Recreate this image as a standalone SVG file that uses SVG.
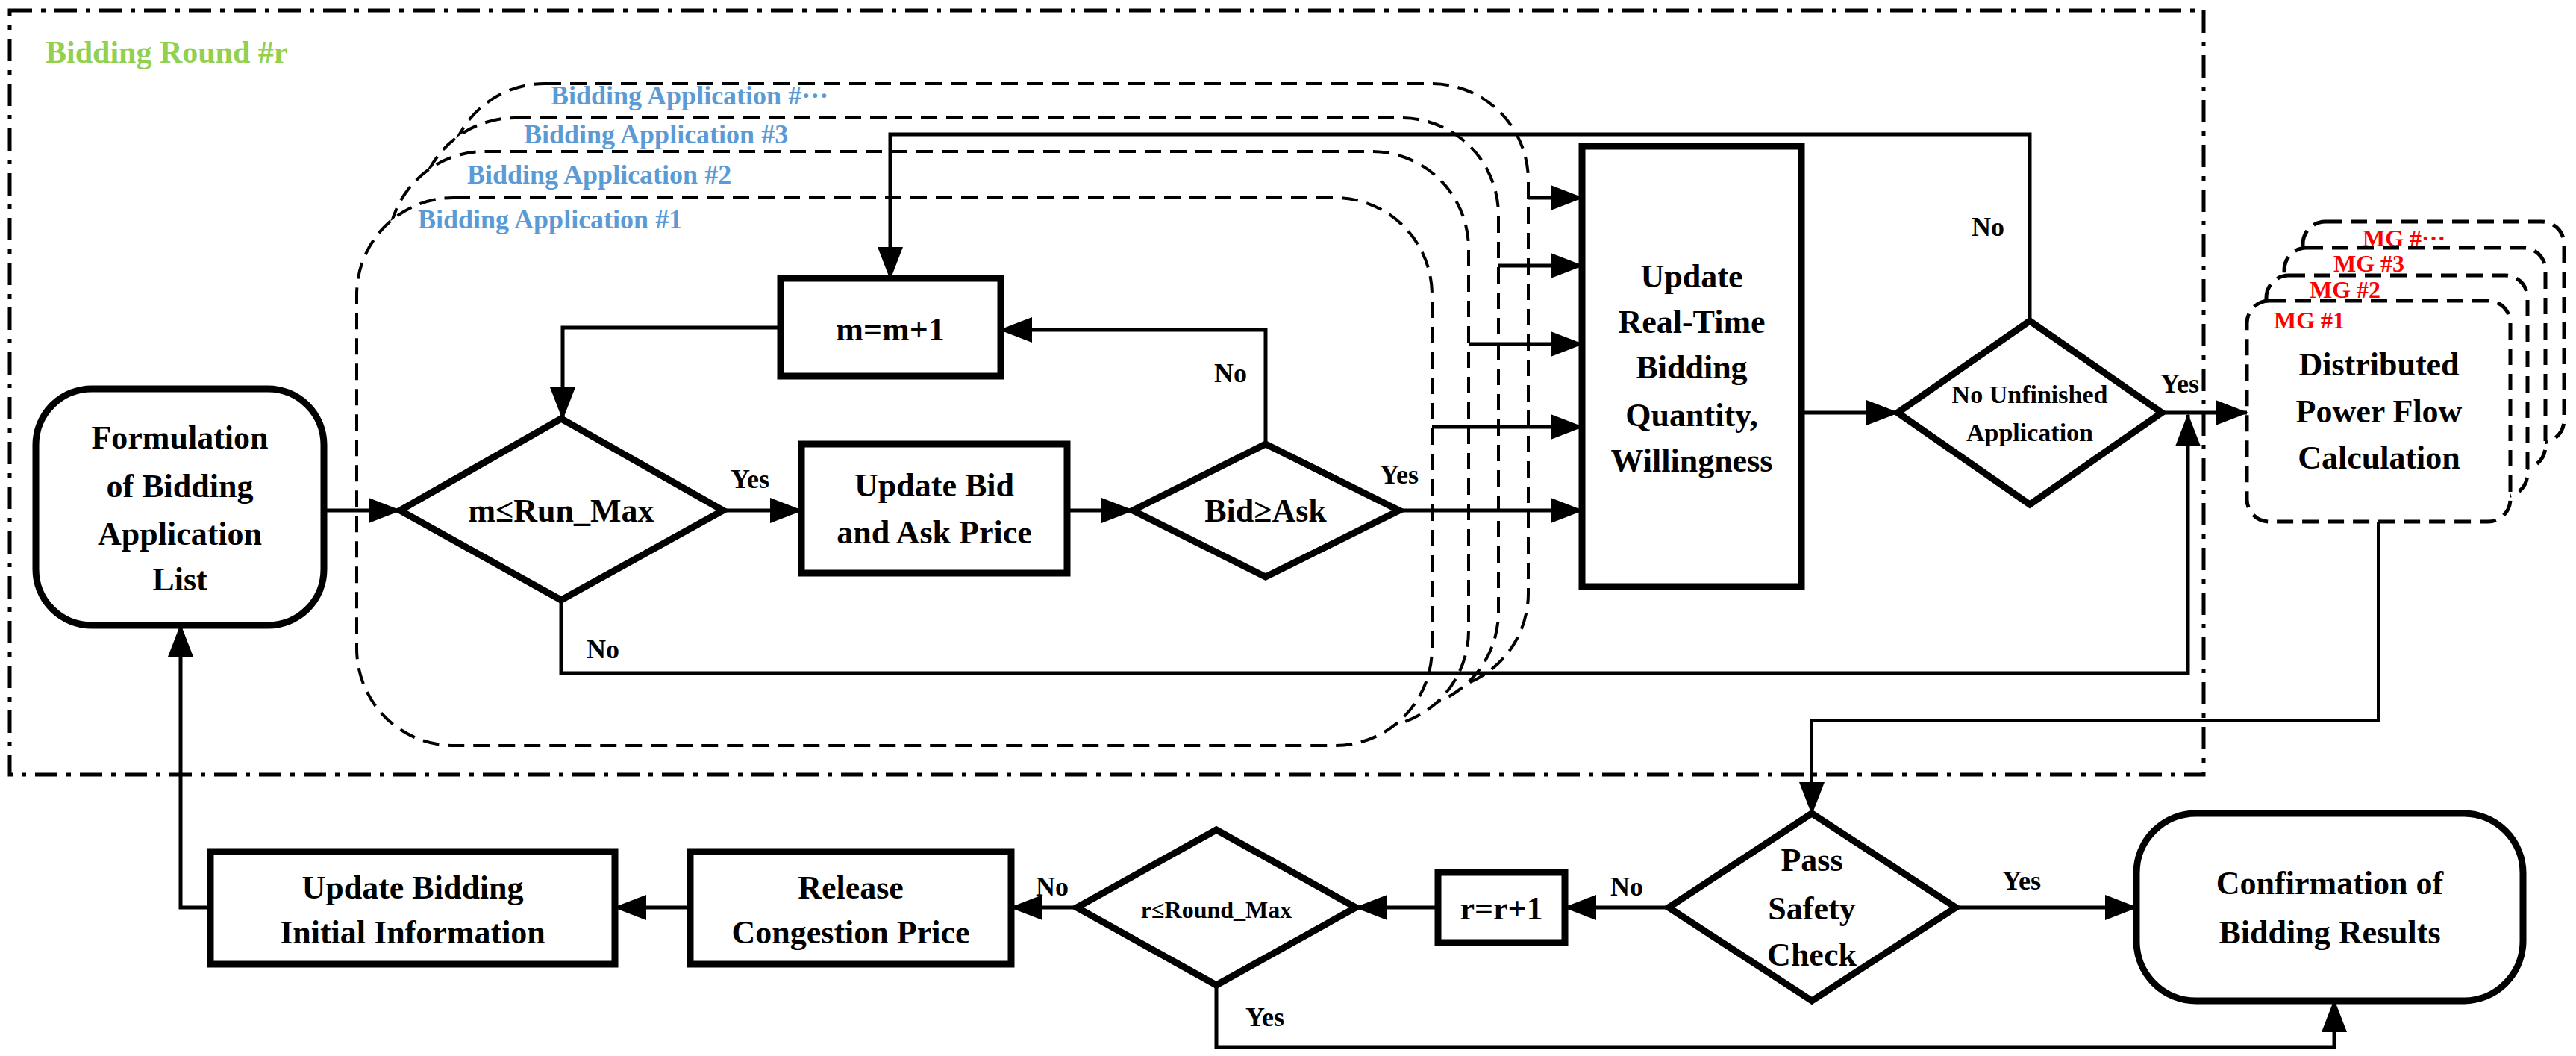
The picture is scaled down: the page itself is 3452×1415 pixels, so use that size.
<svg xmlns="http://www.w3.org/2000/svg" width="3452" height="1415" viewBox="0 0 3452 1415">
<style>
text{font-family:"Liberation Serif","DejaVu Serif","Times New Roman",serif;font-weight:bold;text-anchor:middle}
.n{fill:#fff;stroke:#000;stroke-width:9}
.t{font-size:44px;fill:#000}
.app{fill:#fff;stroke:#000;stroke-width:4;stroke-dasharray:22 12}
.al{font-size:36px;fill:#5B9BD5;text-anchor:start}
.mg{fill:#fff;stroke:#000;stroke-width:5;stroke-dasharray:22 12}
.ml{font-size:32px;fill:#f00;text-anchor:start}
.c{fill:none;stroke:#000;stroke-width:5}
.lb{font-size:36px;fill:#000}
</style>
<defs>
<marker id="a" markerUnits="userSpaceOnUse" markerWidth="44" markerHeight="34" refX="42" refY="17" orient="auto"><path d="M0,0 L44,17 L0,34 z" fill="#000"/></marker>
</defs>
<rect x="13" y="14" width="2940" height="1024" fill="none" stroke="#000" stroke-width="5" stroke-dasharray="30 12 6 12"/>
<text x="61" y="84" style="font-size:42px;fill:#92D050;text-anchor:start">Bidding Round #r</text>

<g id="apps">
<rect class="app" x="600" y="112" width="1448" height="813" rx="130" ry="130"/>
<rect class="app" x="560" y="158" width="1448" height="792" rx="130" ry="130"/>
<rect class="app" x="520" y="203" width="1448" height="772" rx="130" ry="130"/>
<rect class="app" x="478" y="265" width="1441" height="734" rx="130" ry="130"/>
<text class="al" x="738" y="140">Bidding Application #···</text>
<text class="al" x="702" y="192">Bidding Application #3</text>
<text class="al" x="626" y="246">Bidding Application #2</text>
<text class="al" x="560" y="306">Bidding Application #1</text>
</g>

<g id="mgs">
<rect class="mg" x="3086" y="297" width="350" height="296" rx="30"/>
<rect class="mg" x="3061" y="332" width="350" height="296" rx="30"/>
<rect class="mg" x="3037" y="369" width="350" height="296" rx="30"/>
<rect class="mg" x="3011" y="403" width="353" height="296" rx="30"/>
<text class="ml" x="3166" y="330">MG #···</text>
<text class="ml" x="3127" y="364">MG #3</text>
<text class="ml" x="3095" y="399">MG #2</text>
<text class="ml" x="3047" y="440">MG #1</text>
<text class="t" x="3188" y="503">Distributed</text>
<text class="t" x="3188" y="566">Power Flow</text>
<text class="t" x="3188" y="628">Calculation</text>
</g>

<g id="connectors">
<path class="c" d="M434,684 H536" marker-end="url(#a)"/>
<path class="c" d="M969,684 H1074" marker-end="url(#a)"/>
<path class="c" d="M1430,684 H1518" marker-end="url(#a)"/>
<path class="c" d="M1696,595 V442 H1341" marker-end="url(#a)"/>
<path class="c" d="M1046,439 H754 V561" marker-end="url(#a)"/>
<path class="c" d="M2720,430 V180 H1193 V373" marker-end="url(#a)"/>
<path class="c" d="M1875,684 H2120" marker-end="url(#a)"/>
<path class="c" d="M2048,265 H2120" marker-end="url(#a)"/>
<path class="c" d="M2008,356 H2120" marker-end="url(#a)"/>
<path class="c" d="M1968,461 H2120" marker-end="url(#a)"/>
<path class="c" d="M1919,572 H2120" marker-end="url(#a)"/>
<path class="c" d="M2414,553 H2543" marker-end="url(#a)"/>
<path class="c" d="M2897,553 H3011" marker-end="url(#a)"/>
<path class="c" d="M752,804 V902 H2932 V556" marker-end="url(#a)"/>
<path class="c" d="M3187,699 V965 H2428 V1090" marker-end="url(#a)" style="stroke-width:4"/>
<path class="c" d="M2236,1216 H2097" marker-end="url(#a)"/>
<path class="c" d="M1927,1216 H1817" marker-end="url(#a)"/>
<path class="c" d="M1443,1216 H1355" marker-end="url(#a)"/>
<path class="c" d="M925,1216 H824" marker-end="url(#a)"/>
<path class="c" d="M282,1216 H242 V838" marker-end="url(#a)"/>
<path class="c" d="M2621,1216 H2863" marker-end="url(#a)"/>
<path class="c" d="M1630,1320 V1403 H3128 V1341" marker-end="url(#a)"/>
<text class="lb" x="1005" y="654">Yes</text>
<text class="lb" x="1649" y="512">No</text>
<text class="lb" x="2664" y="316">No</text>
<text class="lb" x="1875" y="648">Yes</text>
<text class="lb" x="2921" y="526">Yes</text>
<text class="lb" x="808" y="882">No</text>
<text class="lb" x="2180" y="1200">No</text>
<text class="lb" x="1410" y="1200">No</text>
<text class="lb" x="2709" y="1192">Yes</text>
<text class="lb" x="1695" y="1375">Yes</text>
</g>

<g id="formulation">
<rect class="n" x="48" y="521" width="386" height="317" rx="75"/>
<text class="t" x="241" y="601">Formulation</text>
<text class="t" x="241" y="666">of Bidding</text>
<text class="t" x="241" y="730">Application</text>
<text class="t" x="241" y="791">List</text>
</g>
<g id="runmax">
<path class="n" d="M752,561 L969,684 L752,804 L536,684 z"/>
<text class="t" x="752" y="699">m≤Run_Max</text>
</g>
<g id="mplus">
<rect class="n" x="1046" y="373" width="295" height="131"/>
<text class="t" x="1193" y="456">m=m+1</text>
</g>
<g id="updatebid">
<rect class="n" x="1074" y="595" width="356" height="173"/>
<text class="t" x="1252" y="665">Update Bid</text>
<text class="t" x="1252" y="728">and Ask Price</text>
</g>
<g id="bidask">
<path class="n" d="M1696,595 L1875,684 L1696,773 L1518,684 z"/>
<text class="t" x="1696" y="699">Bid≥Ask</text>
</g>
<g id="updatert">
<rect class="n" x="2120" y="196" width="294" height="590"/>
<text class="t" x="2267" y="385">Update</text>
<text class="t" x="2267" y="446">Real-Time</text>
<text class="t" x="2267" y="507">Bidding</text>
<text class="t" x="2267" y="571">Quantity,</text>
<text class="t" x="2267" y="632">Willingness</text>
</g>
<g id="nounfinished">
<path class="n" d="M2720,430 L2897,553 L2720,676 L2543,553 z"/>
<text class="t" x="2720" y="540" style="font-size:34px">No Unfinished</text>
<text class="t" x="2720" y="591" style="font-size:34px">Application</text>
</g>
<g id="updateinit">
<rect class="n" x="282" y="1141" width="542" height="151"/>
<text class="t" x="553" y="1204">Update Bidding</text>
<text class="t" x="553" y="1264">Initial Information</text>
</g>
<g id="release">
<rect class="n" x="925" y="1141" width="430" height="151"/>
<text class="t" x="1140" y="1204">Release</text>
<text class="t" x="1140" y="1264">Congestion Price</text>
</g>
<g id="roundmax">
<path class="n" d="M1630,1112 L1817,1216 L1630,1320 L1443,1216 z"/>
<text class="t" x="1630" y="1230" style="font-size:32px">r≤Round_Max</text>
</g>
<g id="rplus">
<rect class="n" x="1927" y="1169" width="170" height="94"/>
<text class="t" x="2012" y="1232">r=r+1</text>
</g>
<g id="pass">
<path class="n" d="M2428,1090 L2621,1216 L2428,1341 L2236,1216 z"/>
<text class="t" x="2428" y="1167">Pass</text>
<text class="t" x="2428" y="1232">Safety</text>
<text class="t" x="2428" y="1294">Check</text>
</g>
<g id="confirm">
<rect class="n" x="2863" y="1090" width="518" height="251" rx="80"/>
<text class="t" x="3122" y="1198">Confirmation of</text>
<text class="t" x="3122" y="1264">Bidding Results</text>
</g>
</svg>
